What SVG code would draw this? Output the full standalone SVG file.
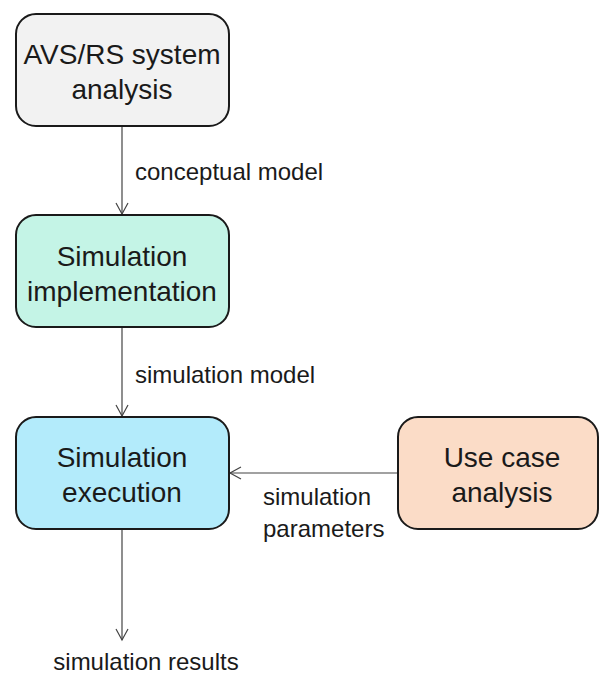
<svg xmlns="http://www.w3.org/2000/svg" width="600" height="675" viewBox="0 0 600 675">
<defs>
<marker id="arr" markerWidth="14" markerHeight="14" refX="12" refY="7" orient="auto" markerUnits="userSpaceOnUse">
<path d="M1,1 L12,7 L1,13" fill="none" stroke="#444" stroke-width="1.2"/>
</marker>
<style>
.box{stroke:#1a1a1a;stroke-width:2}
.bt{font-family:"Liberation Sans",Arial,sans-serif;font-size:28px;fill:#1a1a1a;text-anchor:middle}
.lb{font-family:"Liberation Sans",Arial,sans-serif;font-size:24px;fill:#1a1a1a}
.con{stroke:#444;stroke-width:1.2;fill:none;marker-end:url(#arr)}
</style>
</defs>
<rect width="600" height="675" fill="#fff"/>
<g id="connectors">
<line class="con" x1="122" y1="126" x2="122" y2="214"/>
<line class="con" x1="122" y1="327" x2="122" y2="416"/>
<line class="con" x1="398" y1="473" x2="230" y2="473"/>
<line class="con" x1="122" y1="529" x2="122" y2="640"/>
<text class="lb" x="135" y="180">conceptual model</text>
<text class="lb" x="135" y="383">simulation model</text>
<text class="lb" x="263" y="505">simulation</text>
<text class="lb" x="263" y="537">parameters</text>
<text class="lb" x="146" y="670" text-anchor="middle">simulation results</text>
</g>
<g id="n1">
<rect class="box" x="16" y="14" width="213" height="112" rx="20" fill="#f2f2f2"/>
<text class="bt" x="122" y="64">AVS/RS system</text>
<text class="bt" x="122" y="99">analysis</text>
</g>
<g id="n2">
<rect class="box" x="16" y="215" width="213" height="112" rx="20" fill="#c4f4e6"/>
<text class="bt" x="122" y="266">Simulation</text>
<text class="bt" x="122" y="301">implementation</text>
</g>
<g id="n3">
<rect class="box" x="16" y="417" width="213" height="112" rx="20" fill="#b3ebfb"/>
<text class="bt" x="122" y="467">Simulation</text>
<text class="bt" x="122" y="502">execution</text>
</g>
<g id="n4">
<rect class="box" x="398" y="417" width="200" height="112" rx="20" fill="#fbdcc7"/>
<text class="bt" x="502" y="467">Use case</text>
<text class="bt" x="502" y="502">analysis</text>
</g>
</svg>
